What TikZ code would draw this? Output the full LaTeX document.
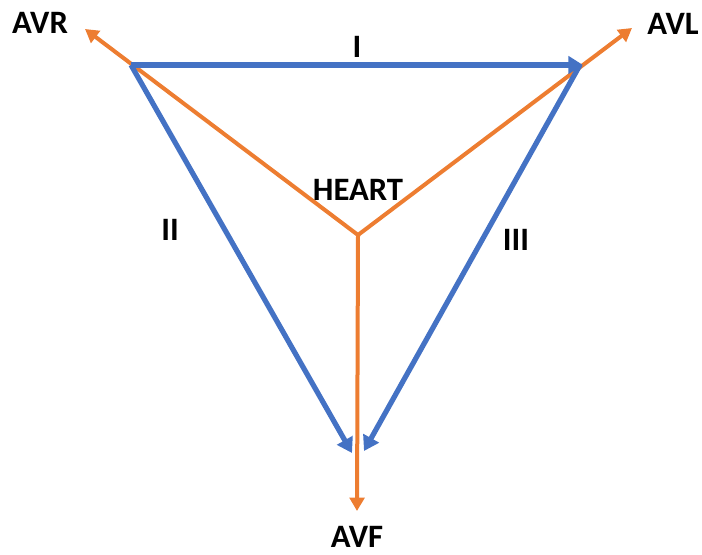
\documentclass[tikz,border=0pt]{standalone}
\usepackage{fontspec}
\setmainfont{Carlito}
\usetikzlibrary{arrows.meta}
\definecolor{ecgblue}{HTML}{4472C4}
\definecolor{ecgorange}{HTML}{ED7D31}
\tikzset{
  lead/.style={draw=ecgblue, line width=3.9pt, -{Triangle[length=11pt,width=13pt]}},
  aug/.style={draw=ecgorange, line width=3pt, -{Triangle[length=10pt,width=11pt]}},
  lbl/.style={font=\bfseries\fontsize{24.5}{29}\selectfont, inner sep=0pt},
}
\begin{document}
\begin{tikzpicture}[x=0.75pt,y=-0.75pt]
\useasboundingbox (0,0) rectangle (702,555);
% vertices
\coordinate (ra) at (131,65);
\coordinate (la) at (583,65);
\coordinate (laS) at (580,65);
\coordinate (ll1) at (352,453);
\coordinate (ll2) at (364,451);
\coordinate (heart) at (358,235);
\coordinate (avrtip) at (85,29);
\coordinate (avltip) at (632,28);
\coordinate (avftip) at (357,511);
% orange augmented leads
\draw[aug] (heart) -- (avrtip);
\draw[aug] (heart) -- (avltip);
\draw[aug] (heart) -- (avftip);
% blue limb leads
\draw[lead] (ra) -- (la);
\draw[lead] (ra) -- (ll1);
\draw[lead] (laS) -- (ll2);
% labels
\node[lbl] (lI) at (357,47) {I};
\node[lbl] (lII) at (170,230) {II};
\node[lbl] (lIII) at (516,240) {III};
\node[lbl] (lH) at (358,190) {HEART};
\node[lbl] (lavr) at (40,23) {AVR};
\node[lbl] (lavl) at (673,24) {AVL};
\node[lbl] (lavf) at (357,537) {AVF};
\end{tikzpicture}
\end{document}
